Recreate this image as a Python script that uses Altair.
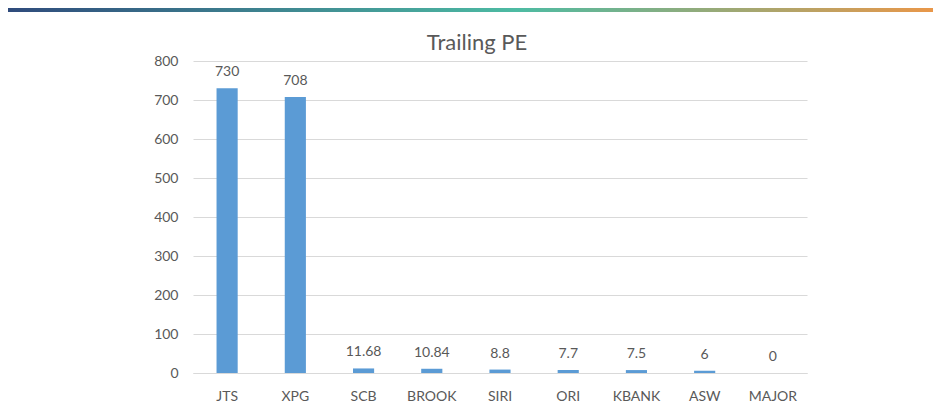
import altair as alt
import pandas as pd

tickers = ["JTS", "XPG", "SCB", "BROOK", "SIRI", "ORI", "KBANK", "ASW", "MAJOR"]
pe_values = [730, 708, 11.68, 10.84, 8.8, 7.7, 7.5, 6, 0]
pe_labels = ["730", "708", "11.68", "10.84", "8.8", "7.7", "7.5", "6", "0"]
y_ticks = [0, 100, 200, 300, 400, 500, 600, 700, 800]
chart_title = "Trailing PE"

df = pd.DataFrame({"ticker": tickers, "pe": pe_values, "label": pe_labels})

FONT = "Lato"
GREY = "#595959"

x_enc = alt.X("ticker:N", sort=tickers, title=None,
              scale=alt.Scale(paddingInner=0.69, paddingOuter=0.345),
              axis=alt.Axis(labelAngle=0, ticks=False, labelPadding=16, labelFontSize=14,
                            labelColor=GREY, labelFont=FONT, domain=True,
                            domainColor="#D9D9D9", grid=False))
y_enc = alt.Y("pe:Q", title=None, scale=alt.Scale(domain=[0, 800], nice=False),
              axis=alt.Axis(values=y_ticks, tickCount=20, labelOverlap=False,
                            ticks=False, domain=False, labelPadding=15,
                            labelFontSize=14, labelColor=GREY, labelFont=FONT,
                            gridColor="#D9D9D9", gridWidth=1))

bars = alt.Chart(df).mark_bar(color="#5B9BD5").encode(x=x_enc, y=y_enc)

labels = alt.Chart(df).mark_text(baseline="alphabetic", dy=-12, fontSize=14,
                                 color=GREY, font=FONT).encode(
    x=x_enc, y=y_enc, text="label:N")

gradient = alt.LinearGradient(
    gradient="linear", x1=0, x2=1, y1=0, y2=0,
    stops=[alt.GradientStop(offset=0, color="#2F4B7C"),
           alt.GradientStop(offset=0.55, color="#4DBBA3"),
           alt.GradientStop(offset=1, color="#E99749")])

band = alt.Chart(alt.Data(values=[{}])).mark_rect(color=gradient).encode(
    x=alt.value(-185), x2=alt.value(740), y=alt.value(-53), y2=alt.value(-49))

title = alt.Chart(alt.Data(values=[{"t": chart_title}])).mark_text(
    fontSize=22, font=FONT, color=GREY, baseline="middle", align="center").encode(
    x=alt.value(284), y=alt.value(-18), text="t:N")

chart = alt.layer(band, title, bars, labels).properties(
    width=614, height=312,
    autosize="none",
    padding={"left": 185, "top": 53, "right": 126, "bottom": 36},
).configure_view(stroke=None)

chart.save("out.html", embed_options={"renderer": "svg", "actions": False})
